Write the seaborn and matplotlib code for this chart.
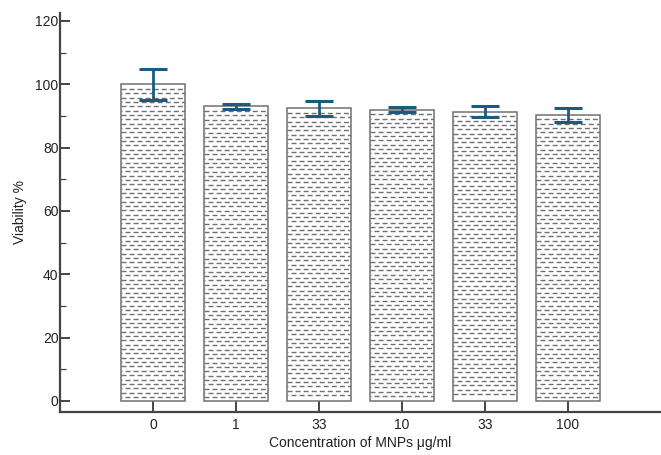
import numpy as np
import pandas as pd
import matplotlib
matplotlib.use("Agg")
import matplotlib.pyplot as plt
from matplotlib import font_manager
import seaborn as sns

# Cell viability after exposure to magnetic nanoparticles
doses = ["0", "1", "33", "10", "33", "100"]
viability = [100.0, 93.0, 92.4, 92.0, 91.3, 90.4]
viability_err = [4.9, 0.9, 2.3, 0.8, 1.7, 2.2]

sns.set_theme(style="white")

installed = {f.name for f in font_manager.fontManager.ttflist}
family = "Liberation Sans Narrow" if "Liberation Sans Narrow" in installed else "Liberation Sans"
plt.rcParams["font.family"] = [family, "DejaVu Sans"]

df = pd.DataFrame({"dose": [f"{i}_{d}" for i, d in enumerate(doses)], "viability": viability})

fig = plt.figure(figsize=(6.61, 4.55), dpi=100)
ax = fig.add_axes([60 / 661, 1 - 412 / 455, 1 - 60 / 661, (412 - 13) / 455])

spine_col = "#444444"
edge_col = "#707070"
err_col = "#1d5a80"
text_col = "#222222"
fs = 10

sns.barplot(data=df, x="dose", y="viability", errorbar=None, color="white",
            width=0.76, edgecolor=edge_col, linewidth=1.1, ax=ax, zorder=2)

# dashed horizontal fill texture inside each bar
for patch in ax.patches:
    x0 = patch.get_x()
    x1 = x0 + patch.get_width()
    top = patch.get_height()
    rows = np.arange(top - 1.45, 1.0, -1.37)
    for k, yv in enumerate(rows):
        off = 0.0 if k % 2 == 0 else 2.9
        ln, = ax.plot([x0, x1], [yv, yv], color="#707070", lw=1.0,
                      linestyle=(off, (3.6, 2.2)), zorder=2.5)
        ln.set_clip_path(patch)

ax.errorbar(np.arange(len(viability)), viability, yerr=viability_err, fmt="none",
            ecolor=err_col, elinewidth=2.0, capsize=10.3, capthick=2.2, zorder=4)

ax.set_xlim(-1.12, 6.12)
ax.set_ylim(-3.5, 122.5)
ax.set_yticks(np.arange(0, 121, 20))
ax.set_yticks(np.arange(10, 121, 20), minor=True)
ax.set_xticks(np.arange(len(doses)))
ax.set_xticklabels(doses)

for s in ["top", "right"]:
    ax.spines[s].set_visible(False)
for s in ["left", "bottom"]:
    ax.spines[s].set_color(spine_col)
    ax.spines[s].set_linewidth(1.6)

ax.tick_params(axis="y", which="major", direction="in", length=7.5, width=1.4,
               color=spine_col, pad=1, labelsize=fs, labelcolor=text_col, left=True)
ax.tick_params(axis="y", which="minor", direction="in", length=4.3, width=0.9,
               color=spine_col, left=True)
ax.tick_params(axis="x", which="major", direction="in", length=8, width=1.4,
               color=spine_col, pad=4, labelsize=fs, labelcolor=text_col, bottom=True)
ax.grid(False)

ax.set_xlabel("Concentration of MNPs μg/ml", fontsize=fs, color=text_col, labelpad=3)
ax.set_ylabel("Viability %", fontsize=fs, color=text_col, labelpad=6)

fig.savefig("out.png", dpi=100, facecolor="white")
